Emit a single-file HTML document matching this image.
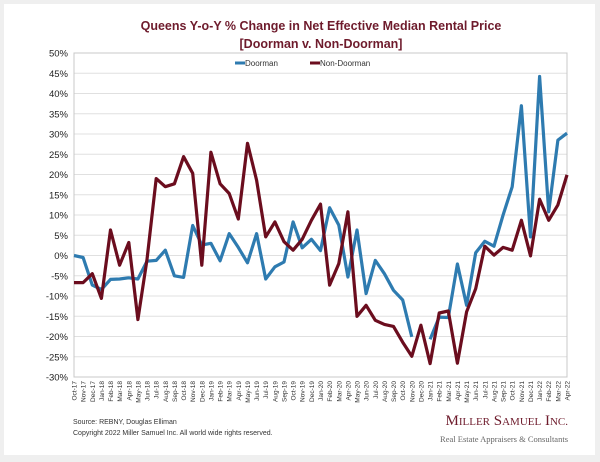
<!DOCTYPE html>
<html><head><meta charset="utf-8"><style>
body{margin:0;background:#efefef;font-family:"Liberation Sans",Arial,sans-serif;}
#card{position:absolute;left:4px;top:4px;width:591px;height:451px;background:#fff;}
svg{position:absolute;left:0;top:0;}
</style></head><body>
<div id="card"></div>
<svg id="chart" width="600" height="462">
<text x="321" y="30" text-anchor="middle" font-size="12.5" font-weight="bold" fill="#6e1b2c">Queens Y-o-Y % Change in Net Effective Median Rental Price</text>
<text x="321" y="48" text-anchor="middle" font-size="12.5" font-weight="bold" fill="#6e1b2c">[Doorman v. Non-Doorman]</text>
<g>
<line x1="235" y1="63" x2="245" y2="63" stroke="#2e7bb0" stroke-width="3"/>
<text x="245" y="66" font-size="8" fill="#333">Doorman</text>
<line x1="310" y1="63" x2="320" y2="63" stroke="#6b0d1e" stroke-width="3"/>
<text x="320" y="66" font-size="8" fill="#333">Non-Doorman</text>
</g>
<g id="grid"></g><g id="series"></g><g id="xlabels"></g>
<text x="73" y="424" font-size="7" fill="#333">Source: REBNY, Douglas Elliman</text>
<text x="73" y="435" font-size="7" fill="#333">Copyright 2022 Miller Samuel Inc.  All world wide rights reserved.</text>
<text x="568" y="425" text-anchor="end" font-family="Liberation Serif,serif" font-size="15" fill="#6e1b2c">M<tspan font-size="11">ILLER</tspan> S<tspan font-size="11">AMUEL</tspan> I<tspan font-size="11">NC.</tspan></text>
<text x="568" y="442" text-anchor="end" font-family="Liberation Serif,serif" font-size="8.5" fill="#666">Real Estate Appraisers &amp; Consultants</text>
</svg>
<script>
const months = ["Oct-17","Nov-17","Dec-17","Jan-18","Feb-18","Mar-18","Apr-18","May-18","Jun-18","Jul-18","Aug-18","Sep-18","Oct-18","Nov-18","Dec-18","Jan-19","Feb-19","Mar-19","Apr-19","May-19","Jun-19","Jul-19","Aug-19","Sep-19","Oct-19","Nov-19","Dec-19","Jan-20","Feb-20","Mar-20","Apr-20","May-20","Jun-20","Jul-20","Aug-20","Sep-20","Oct-20","Nov-20","Dec-20","Jan-21","Feb-21","Mar-21","Apr-21","May-21","Jun-21","Jul-21","Aug-21","Sep-21","Oct-21","Nov-21","Dec-21","Jan-22","Feb-22","Mar-22","Apr-22"];
const doorman = [0,-0.5,-7.3,-8.4,-5.9,-5.8,-5.5,-5.8,-1.4,-1.2,1.3,-5,-5.4,7.4,2.6,3,-1.3,5.4,2,-1.8,5.4,-5.8,-2.8,-1.6,8.3,1.9,4,1.2,11.8,7.5,-5.3,6.3,-9.4,-1.2,-4.5,-8.6,-11,-20.1,null,-20.7,-15.2,-15.3,-2.1,-12.3,0.7,3.5,2.3,10,17,37,4.6,44.2,10.8,28.5,30.2];
const nonDoorman = [-6.7,-6.7,-4.5,-10.6,6.3,-2.4,3.2,-15.8,-1,19,17,17.7,24.4,20.3,-2.4,25.5,17.7,15.3,9,27.7,18.6,4.6,8.3,3.4,1.3,4,8.7,12.7,-7.3,-2,10.8,-15,-12.3,-16,-17,-17.5,-21.4,-24.9,-17.2,-26.7,-14.2,-13.7,-26.6,-13.9,-8.2,2.3,0.1,2,1.3,8.7,-0.1,13.9,8.7,12.5,19.9];
const yTicks = [50,45,40,35,30,25,20,15,10,5,0,-5,-10,-15,-20,-25,-30];

const NS="http://www.w3.org/2000/svg";
const L=74,R=567,T=53,B=377,yMax=50,yMin=-30;
const xS=i=>L+(R-L)*i/(months.length-1);
const yS=v=>T+(yMax-v)/(yMax-yMin)*(B-T);
function mk(t,a,p){const e=document.createElementNS(NS,t);for(const k in a)e.setAttribute(k,a[k]);p.appendChild(e);return e;}
const grid=document.getElementById('grid');
yTicks.forEach(v=>{
  const ln=mk('line',{x1:L,x2:R,y1:yS(v),y2:yS(v),stroke:v===yMin?'#bbb':'#e0e0e0','stroke-width':1},grid);
  
  
  const tx=mk('text',{x:L-6,y:yS(v)+3.5,'text-anchor':'end','font-size':9.5,fill:'#222'},grid);
  tx.textContent=v+'%';
  
  
});
const fr=mk('rect',{x:L,y:T,width:R-L,height:B-T,fill:'none',stroke:'#c8c8c8'},grid);


const xl=document.getElementById('xlabels');
months.forEach((m,i)=>{
  const t=mk('text',{x:0,y:0,'text-anchor':'end','font-size':6.5,fill:'#333',transform:`translate(${xS(i)+2.5},${B+4}) rotate(-90)`},xl);
  t.textContent=m;
  
  
});
function drawSeries(vals,color,name){
  let d='',pen=false;
  vals.forEach((v,i)=>{
    if(v===null){pen=false;return;}
    d+=(pen?'L':'M')+xS(i).toFixed(1)+','+yS(v).toFixed(1);pen=true;
  });
  const p=mk('path',{d:d,fill:'none',stroke:color,'stroke-width':3.2,'stroke-linejoin':'round'},document.getElementById('series'));
  
  
}
drawSeries(doorman,'#2e7bb0','doorman-line');
drawSeries(nonDoorman,'#6b0d1e','non-doorman-line');
</script>
</body></html>
